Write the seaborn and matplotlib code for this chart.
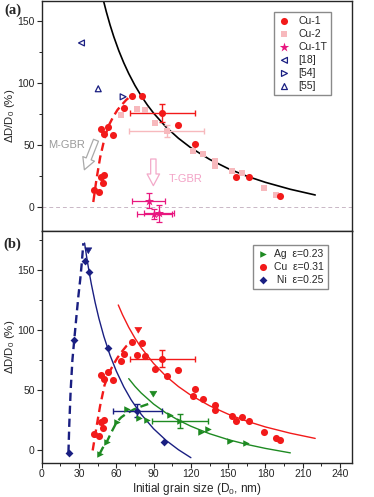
import numpy as np
import pandas as pd
import matplotlib
matplotlib.use("Agg")
import matplotlib.pyplot as plt
import seaborn as sns
from matplotlib.ticker import MultipleLocator

# ---- panel (a) data ----
cu1_x = [42, 46, 48, 50, 49.5, 48, 50, 53.5, 57.5, 66, 73, 80.5, 97, 109.5, 123, 156, 167, 192]
cu1_y = [14, 12, 24, 25.5, 19, 63, 59, 65, 58.5, 80, 90, 89.5, 76, 66.5, 51, 24.5, 24.5, 9]
cu2_x = [64, 77, 83, 91, 100.5, 121.5, 129.5, 139.5, 139.5, 153, 161, 179, 188.5]
cu2_y = [74, 79, 78, 68, 61.5, 45.5, 43, 37.5, 33.5, 29, 27.5, 15.5, 10]
cu1t_x = [86, 90.5, 94.5]
cu1t_y = [5, -6, -5]
cu1t_xerr = [13, 14, 12]
cu1t_yerr = [6, 4, 7]
ref18 = (32, 132.5)
ref54 = (65.5, 89)
ref55 = (45.5, 95.5)

# error bars on single points (x, y, xerr, yerr)
cu1_err = (97, 76, 26, 7)
cu2_err = (100.5, 61.5, 30, 5)

# fitted curves
fit_a_x = [49.5, 52, 55, 58, 62, 66, 70, 75, 80, 85, 90, 100, 110, 120, 135, 150, 165, 180, 200, 220]
fit_a_y = [167.4, 157.6, 147, 137.5, 126.3, 116.5, 107.8, 98.2, 89.8, 82.4, 75.8, 64.6, 55.5, 47.8,
           38.5, 31.0, 24.9, 19.9, 14.3, 9.7]
dash_a_x = [41.5, 44, 47, 50.9, 54, 57.6, 61, 64.4, 68, 71, 74]
dash_a_y = [4, 22, 40, 57, 66, 73, 78.5, 82.5, 86.5, 89, 90]

# ---- panel (b) data ----
ag_x = [47, 52.5, 60.5, 69, 78.5, 84.5, 103.5, 111, 128, 133.5, 151.5, 164.5]
ag_y = [-3, 7, 24, 34, 27, 25.5, 29.5, 24.5, 15, 17.5, 7.5, 6]
ni_x = [22, 26, 35, 38, 53.5, 77, 98.5]
ni_y = [-2, 92, 157, 148, 85, 33, 7]
ag_err = (111, 24.5, 22.5, 6)
ni_err = (77, 33, 19.5, 5.5)

cu_fit_x = [61.6, 65, 70, 75, 80, 90, 100, 110, 120, 135, 150, 165, 180, 200, 220]
cu_fit_y = [120.7, 112.6, 102.2, 93.2, 85.3, 72.2, 61.6, 53.0, 45.8, 37.1, 30.1, 24.3, 19.5, 14.3, 10.0]
cu_dash_x = [41, 44, 47, 50.5, 54, 57.5, 61, 64.5, 68, 71, 74]
cu_dash_y = [0, 19, 37, 54, 64, 71, 77, 82, 86.5, 89, 91]
ag_fit_x = [70, 75, 80, 90, 100, 110, 120, 135, 150, 165, 180, 200]
ag_fit_y = [59.6, 53.2, 47.7, 38.5, 31.1, 25.1, 20.1, 13.9, 9.0, 5.0, 1.7, -2.0]
ag_dash_x = [46.5, 49, 52.3, 56, 60.3, 64, 68.4, 74, 80, 87]
ag_dash_y = [-3, 2, 7, 15, 23.5, 27.5, 30.7, 34, 36.5, 39]
ni_fit_x = [34.5, 36, 38, 40, 43, 46, 50, 55, 60, 66, 72, 80, 90, 100, 110, 120]
ni_fit_y = [172.1, 161.6, 149.0, 137.7, 122.7, 109.6, 94.6, 78.9, 65.9, 52.8, 41.9, 30.0, 18.0, 8.4, 0.6, -6.0]
ni_dash_x = [21.5, 22.2, 23.3, 24.7, 26.2, 28, 29.5, 31, 32.2, 33.5]
ni_dash_y = [-2, 22, 50, 75, 92, 112, 128, 142, 155, 172]

# peak arrows (x, y tail, y tip)
arr_ni = (37.5, 170, 161)
arr_cu = (77.7, 103, 95)
arr_ag = (89.8, 50, 42)

RED = "#f21a1a"
PINK = "#f7b9bd"
MAGENTA = "#e8177f"
NAVY = "#1a1f82"
GREEN = "#1e8a22"

sns.set_theme(style="ticks")
plt.rcParams["font.family"] = ["Liberation Sans", "DejaVu Sans"]
plt.rcParams["mathtext.fontset"] = "custom"
plt.rcParams["mathtext.rm"] = "Liberation Sans"
plt.rcParams["mathtext.it"] = "Liberation Sans:italic"
plt.rcParams["axes.linewidth"] = 1.0

fig = plt.figure(figsize=(3.74, 4.97), dpi=100)
ax_a = fig.add_axes([0.1115, 0.5362, 0.831, 0.4608])
ax_b = fig.add_axes([0.1115, 0.0694, 0.831, 0.4668])

# ---------------- panel (a) ----------------
ax_a.axhline(0, color="#c9b7c6", lw=0.7, ls=(0, (4, 3)), zorder=1)
sns.lineplot(x=fit_a_x, y=fit_a_y, ax=ax_a, color="black", lw=1.2, sort=False, zorder=2)
sns.lineplot(x=dash_a_x, y=dash_a_y, ax=ax_a, color=RED, lw=1.7, sort=False, zorder=2,
             linestyle=(0, (3.5, 2)))

ax_a.errorbar(cu2_err[0], cu2_err[1], xerr=cu2_err[2], yerr=cu2_err[3], fmt="none",
              ecolor=PINK, elinewidth=1.0, capsize=2.5, capthick=1.0, zorder=3)
ax_a.errorbar(cu1_err[0], cu1_err[1], xerr=cu1_err[2], yerr=cu1_err[3], fmt="none",
              ecolor=RED, elinewidth=1.0, capsize=2.5, capthick=1.0, zorder=3)
ax_a.errorbar(cu1t_x, cu1t_y, xerr=cu1t_xerr, yerr=cu1t_yerr, fmt="none",
              ecolor=MAGENTA, elinewidth=0.9, capsize=2, capthick=0.9, zorder=3)

sns.scatterplot(x=cu1_x, y=cu1_y, ax=ax_a, color=RED, marker="o", s=26, linewidth=0,
                label="Cu-1", zorder=5)
sns.scatterplot(x=cu2_x, y=cu2_y, ax=ax_a, color=PINK, marker="s", s=20, linewidth=0,
                label="Cu-2", zorder=4)
sns.scatterplot(x=cu1t_x, y=cu1t_y, ax=ax_a, color=MAGENTA, marker="*", s=50, linewidth=0,
                label="Cu-1T", zorder=5)
ax_a.scatter([ref18[0]], [ref18[1]], marker="<", s=18, facecolors="none", edgecolors=NAVY,
             linewidths=0.9, label="[18]", zorder=5)
ax_a.scatter([ref54[0]], [ref54[1]], marker=">", s=18, facecolors="none", edgecolors=NAVY,
             linewidths=0.9, label="[54]", zorder=5)
ax_a.scatter([ref55[0]], [ref55[1]], marker="^", s=18, facecolors="none", edgecolors=NAVY,
             linewidths=0.9, label="[55]", zorder=5)

# open arrows for the two regimes
ax_a.annotate("", xy=(33.5, 28), xytext=(44.5, 56),
              arrowprops=dict(arrowstyle="simple,head_width=0.75,head_length=0.7,tail_width=0.32",
                              fc="white", ec="#aaaaaa", lw=0.9), zorder=3)
ax_a.annotate("", xy=(89.8, 15), xytext=(89.8, 41),
              arrowprops=dict(arrowstyle="simple,head_width=0.75,head_length=0.7,tail_width=0.32",
                              fc="white", ec="#f3a9c9", lw=0.9), zorder=3)
ax_a.text(20, 50, "M-GBR", color="#9a9a9a", fontsize=8, ha="center", va="center")
ax_a.text(116, 23, "T-GBR", color="#f3a3c6", fontsize=8, ha="center", va="center")

ax_a.set_xlim(0, 250)
ax_a.set_ylim(-19, 166)
ax_a.set_yticks([0, 50, 100, 150])
ax_a.yaxis.set_minor_locator(MultipleLocator(25))
ax_a.tick_params(axis="x", which="both", bottom=False, labelbottom=False)
ax_a.tick_params(axis="y", which="major", length=3.5, width=0.8, labelsize=7.5, pad=1.5)
ax_a.tick_params(axis="y", which="minor", length=2, width=0.7)
ax_a.set_xlabel("")
ax_a.set_ylabel("ΔD/D$_0$ (%)", fontsize=8.2)
ax_a.yaxis.set_label_coords(-0.078, 0.5)
ax_a.legend(loc="upper right", bbox_to_anchor=(0.931, 0.954), fontsize=7.5, frameon=True,
            fancybox=False, edgecolor="#8a8a8a", framealpha=1, handletextpad=0.7,
            labelspacing=0.3, borderpad=0.35, handlelength=1.3, borderaxespad=0)

# ---------------- panel (b) ----------------
sns.lineplot(x=ni_fit_x, y=ni_fit_y, ax=ax_b, color=NAVY, lw=1.0, sort=False, zorder=2)
sns.lineplot(x=ni_dash_x, y=ni_dash_y, ax=ax_b, color=NAVY, lw=1.7, sort=False, zorder=2,
             linestyle=(0, (3.5, 2)))
sns.lineplot(x=cu_fit_x, y=cu_fit_y, ax=ax_b, color=RED, lw=1.0, sort=False, zorder=2)
sns.lineplot(x=cu_dash_x, y=cu_dash_y, ax=ax_b, color=RED, lw=1.7, sort=False, zorder=2,
             linestyle=(0, (3.5, 2)))
sns.lineplot(x=ag_fit_x, y=ag_fit_y, ax=ax_b, color=GREEN, lw=1.0, sort=False, zorder=2)
sns.lineplot(x=ag_dash_x, y=ag_dash_y, ax=ax_b, color=GREEN, lw=1.7, sort=False, zorder=2,
             linestyle=(0, (3.5, 2)))

for (ex, ey, exe, eye), col in [(cu1_err, RED), (ag_err, GREEN), (ni_err, NAVY)]:
    ax_b.errorbar(ex, ey, xerr=exe, yerr=eye, fmt="none", ecolor=col, elinewidth=1.0,
                  capsize=2.5, capthick=1.0, zorder=3)

sns.scatterplot(x=ag_x, y=ag_y, ax=ax_b, color=GREEN, marker=">", s=22, linewidth=0,
                label="Ag  ε=0.23", zorder=5)
sns.scatterplot(x=cu1_x + cu2_x, y=cu1_y + cu2_y, ax=ax_b, color=RED, marker="o", s=26,
                linewidth=0, label="Cu  ε=0.31", zorder=5)
sns.scatterplot(x=ni_x, y=ni_y, ax=ax_b, color=NAVY, marker="D", s=16, linewidth=0,
                label=" Ni  ε=0.25", zorder=5)

for (axx, y0, y1), col in [(arr_ni, NAVY), (arr_cu, RED), (arr_ag, GREEN)]:
    ax_b.annotate("", xy=(axx, y1), xytext=(axx, y0),
                  arrowprops=dict(arrowstyle="simple,head_width=0.42,head_length=0.35,tail_width=0.22",
                                  fc=col, ec=col, lw=0.4), zorder=6)

ax_b.set_xlim(0, 250)
ax_b.set_ylim(-10, 182.5)
ax_b.set_xticks(np.arange(0, 241, 30))
ax_b.xaxis.set_minor_locator(MultipleLocator(15))
ax_b.set_yticks([0, 50, 100, 150])
ax_b.yaxis.set_minor_locator(MultipleLocator(25))
ax_b.tick_params(which="major", length=3.5, width=0.8, labelsize=7.5, pad=1.5)
ax_b.tick_params(which="minor", length=2, width=0.7)
ax_b.set_xlabel("Initial grain size (D$_0$, nm)", fontsize=8.5, labelpad=1)
ax_b.set_ylabel("ΔD/D$_0$ (%)", fontsize=8.2)
ax_b.yaxis.set_label_coords(-0.078, 0.5)
ax_b.legend(loc="upper right", bbox_to_anchor=(0.921, 0.9375), fontsize=7.5, frameon=True,
            fancybox=False, edgecolor="#8a8a8a", framealpha=1, handletextpad=0.4,
            labelspacing=0.3, borderpad=0.35, handlelength=1.3, borderaxespad=0)

fig.text(0.012, 0.993, "(a)", fontsize=10.5, fontweight="bold", family="Liberation Serif",
         va="top", ha="left")
fig.text(0.008, 0.522, "(b)", fontsize=10.5, fontweight="bold", family="Liberation Serif",
         va="top", ha="left")

fig.savefig("out.png", dpi=100)
